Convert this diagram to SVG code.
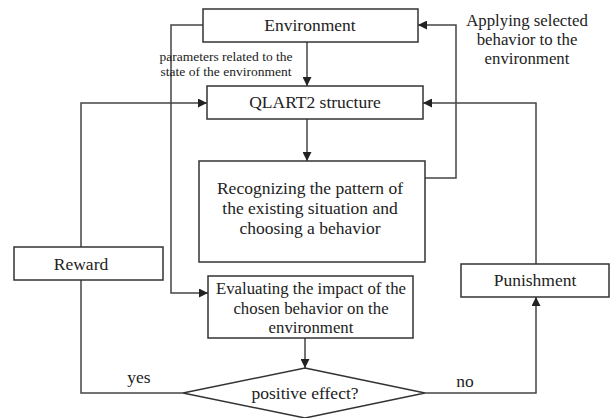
<svg xmlns="http://www.w3.org/2000/svg" width="612" height="418" viewBox="0 0 612 418">
<style>
.box{fill:#fff;stroke:#333;stroke-width:1.5}
.ln{fill:none;stroke:#444;stroke-width:1.5}
text{font-family:'Liberation Serif','Times New Roman','DejaVu Serif',serif;fill:#222;text-anchor:middle}
.t{font-size:17.5px}
.m{font-size:16.8px}
.s{font-size:13.5px}
</style>
<defs>
<marker id="ar" viewBox="0 0 10 10" refX="10" refY="5" markerWidth="9" markerHeight="9" markerUnits="userSpaceOnUse" orient="auto">
<path d="M0,0 L10,5 L0,10 z" fill="#222"/>
</marker>
</defs>
<g id="connectors">
<path class="ln" d="M307,42 V86" marker-end="url(#ar)"/>
<path class="ln" d="M307,119 V161" marker-end="url(#ar)"/>
<path class="ln" d="M203,25 H171 V293 H208" marker-end="url(#ar)"/>
<path class="ln" d="M425,178 H456 V25 H418" marker-end="url(#ar)"/>
<path class="ln" d="M81,247 V103 H207" marker-end="url(#ar)"/>
<path class="ln" d="M536,264 V103 H423" marker-end="url(#ar)"/>
<path class="ln" d="M305,338 V368" marker-end="url(#ar)"/>
<path class="ln" d="M81,280 V393 H183"/>
<path class="ln" d="M425,393 H536 V297" marker-end="url(#ar)"/>
<text class="t" x="139" y="383">yes</text>
<text class="t" x="465" y="387">no</text>
<text class="s" x="226" y="61">parameters related to the</text>
<text class="s" x="226" y="76">state of the environment</text>
<text class="m" x="527" y="26">Applying selected</text>
<text class="m" x="527" y="45">behavior to the</text>
<text class="m" x="527" y="64">environment</text>
</g>
<g id="environment">
<rect class="box" x="203" y="9" width="215" height="33"/>
<text class="t" x="310" y="31">Environment</text>
</g>
<g id="qlart2">
<rect class="box" x="207" y="86" width="216" height="33"/>
<text class="t" x="315" y="108">QLART2 structure</text>
</g>
<g id="recognizing">
<rect class="box" x="199" y="161" width="226" height="101"/>
<text class="t" x="310" y="194">Recognizing the pattern of</text>
<text class="t" x="310" y="214">the existing situation and</text>
<text class="t" x="310" y="234">choosing a behavior</text>
</g>
<g id="evaluating">
<rect class="box" x="208" y="276" width="205" height="62"/>
<text class="m" x="311" y="294">Evaluating the impact of the</text>
<text class="m" x="311" y="313.5">chosen behavior on the</text>
<text class="m" x="311" y="333">environment</text>
</g>
<g id="reward">
<rect class="box" x="14" y="247" width="149" height="33"/>
<text class="t" x="81" y="270">Reward</text>
</g>
<g id="punishment">
<rect class="box" x="461" y="264" width="148" height="33"/>
<text class="t" x="535" y="286">Punishment</text>
</g>
<g id="decision">
<polygon class="box" points="305,368 425,393 305,418 183,393"/>
<text class="t" x="305" y="399">positive effect?</text>
</g>
</svg>
